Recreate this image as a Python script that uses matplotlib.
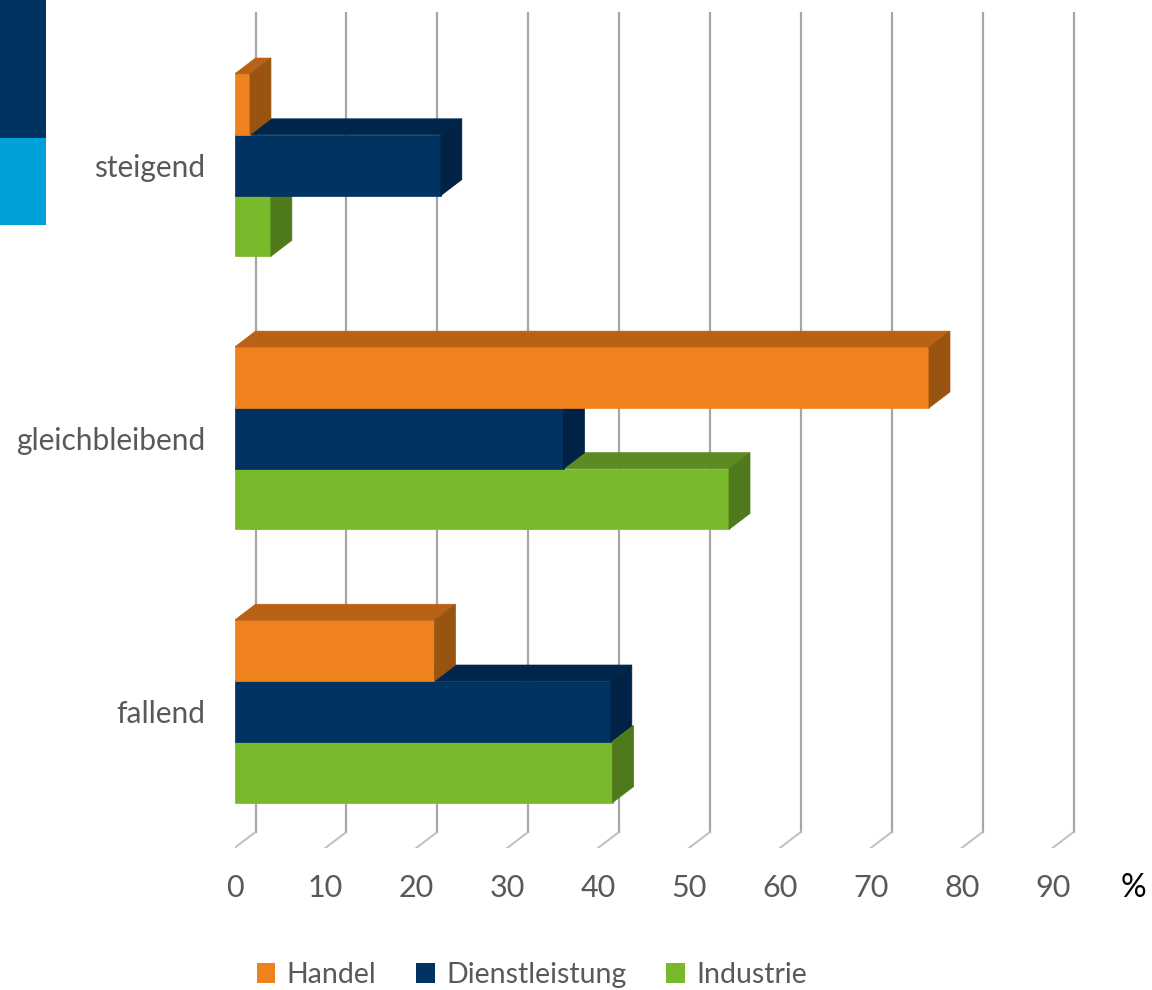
import matplotlib.pyplot as plt
from matplotlib.patches import Polygon, Patch, Rectangle

# data
categories = ["fallend", "gleichbleibend", "steigend"]
handel = [22.0, 76.4, 1.7]
dienstleistung = [41.4, 36.2, 22.7]
industrie = [41.6, 54.4, 4.0]
series_names = ["Handel", "Dienstleistung", "Industrie"]
ticks = [0, 10, 20, 30, 40, 50, 60, 70, 80, 90]

# colours: front, top, side
cols = {
    "Handel": ("#F0821E", "#B96115", "#9A5411"),
    "Dienstleistung": ("#003262", "#00264C", "#002244"),
    "Industrie": ("#78B82B", "#5D8A21", "#4E7A1C"),
}
text_col = "#595959"
grid_col = "#A6A6A6"

plt.rcParams['font.family'] = ['Lato', 'DejaVu Sans']

W, H = 1152, 990
fig = plt.figure(figsize=(W / 100, H / 100), dpi=100)

# axes in pixels
x0px = 234.5
pxx = 9.09          # pixels per percent
y0px = 711.4        # centre of first category
pxy = 273.1         # pixels per category
ylo, yhi = -0.5, 2.56
xlo, xhi = 0, 95
left = x0px / W
width = (xhi - xlo) * pxx / W
bottom = (H - (y0px + (0 - ylo) * pxy)) / H
height = (yhi - ylo) * pxy / H
ax = fig.add_axes([left, bottom, width, height])
ax.set_xlim(xlo, xhi)
ax.set_ylim(ylo, yhi)
for s in ax.spines.values():
    s.set_visible(False)

dx = 21 / pxx
dy = 16 / pxy
bh = 0.2225

# back wall gridlines with floor diagonals
for t in ticks:
    ax.plot([t + dx, t + dx], [ylo + dy, yhi], color=grid_col, lw=1.6, zorder=1)
    ax.plot([t, t + dx], [ylo, ylo + dy], color="#BFBFBF", lw=1.4, zorder=1)


def bar3d(v, yb, name, z):
    front, top, side = cols[name]
    yt = yb + bh
    ax.add_patch(Rectangle((0, yb), v, bh, facecolor=front, edgecolor=front, lw=0.5, zorder=z))
    ax.add_patch(Polygon([(0, yt), (v, yt), (v + dx, yt + dy), (dx, yt + dy)],
                         closed=True, facecolor=top, edgecolor=top, lw=0.5, zorder=z))
    ax.add_patch(Polygon([(v, yb), (v + dx, yb + dy), (v + dx, yt + dy), (v, yt)],
                         closed=True, facecolor=side, edgecolor=side, lw=0.5, zorder=z))


# draw lower bars first so upper ones overlap correctly
for i in range(len(categories)):
    bar3d(industrie[i], i - 1.5 * bh, "Industrie", 2 + i * 3)
    bar3d(dienstleistung[i], i - 0.5 * bh, "Dienstleistung", 3 + i * 3)
    bar3d(handel[i], i + 0.5 * bh, "Handel", 4 + i * 3)

ax.set_xticks([])
ax.set_yticks(range(len(categories)))
ax.set_yticklabels(categories, fontsize=21.5, color=text_col)
ax.tick_params(axis='y', length=0, pad=21)

ylab = (y0px - 888) / pxy
for t in ticks:
    ax.text(t, ylab, str(t), ha='center', va='center', fontsize=22, color=text_col, clip_on=False)
ax.text((1133 - x0px) / pxx, ylab, "%", ha='center', va='center', fontsize=23, color='black', clip_on=False)

# decoration at top left
fig.patches.append(Rectangle((0, 1 - 138 / H), 46 / W, 138 / H, transform=fig.transFigure,
                             facecolor="#003262", edgecolor='none'))
fig.patches.append(Rectangle((0, 1 - 225 / H), 46 / W, 87 / H, transform=fig.transFigure,
                             facecolor="#00A0D8", edgecolor='none'))

handles = [Patch(facecolor=cols[n][0], edgecolor='none', label=n) for n in series_names]
leg = fig.legend(handles=handles, loc='center', bbox_to_anchor=(532 / W, (H - 975) / H), ncol=3,
                 frameon=False, fontsize=20.5, handlelength=0.65, handleheight=0.65,
                 handletextpad=0.4, columnspacing=1.4)
for t in leg.get_texts():
    t.set_color(text_col)

fig.savefig("out.png", dpi=100)
